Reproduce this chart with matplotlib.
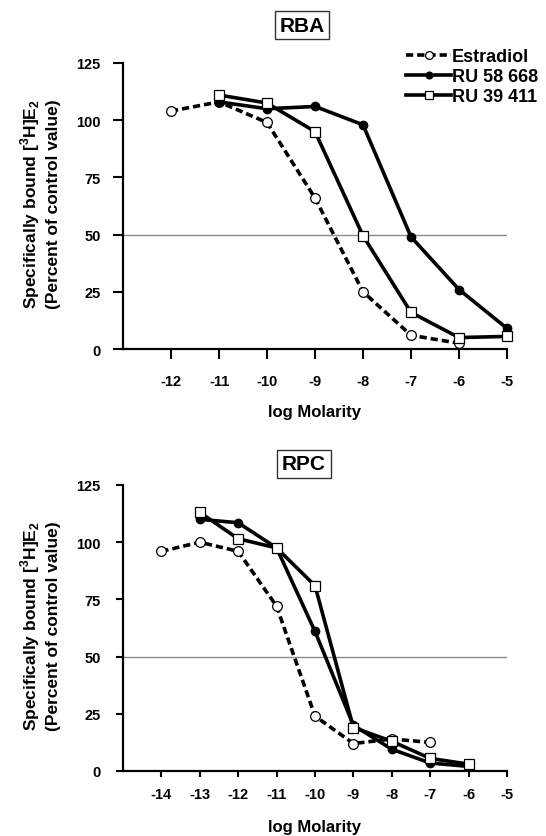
import matplotlib.pyplot as plt

plt.rcParams['font.family'] = ['Liberation Sans', 'DejaVu Sans']
plt.rcParams['font.weight'] = 'bold'
plt.rcParams['axes.unicode_minus'] = False
plt.rcParams['mathtext.fontset'] = 'custom'
plt.rcParams['mathtext.rm'] = 'Liberation Sans:bold'
plt.rcParams['mathtext.bf'] = 'Liberation Sans:bold'

# RBA panel
rba_estr_x = [-12, -11, -10, -9, -8, -7, -6]
rba_estr_y = [104, 108, 99, 66, 25, 6, 2.5]
rba_ru58_x = [-11, -10, -9, -8, -7, -6, -5]
rba_ru58_y = [108, 105, 106, 98, 49, 26, 9]
rba_ru39_x = [-11, -10, -9, -8, -7, -6, -5]
rba_ru39_y = [111, 107.5, 95, 49.5, 16, 5, 5.5]

# RPC panel
rpc_estr_x = [-14, -13, -12, -11, -10, -9, -8, -7]
rpc_estr_y = [96, 100, 96, 72, 24, 12, 14, 12.5]
rpc_ru58_x = [-13, -12, -11, -10, -9, -8, -7, -6]
rpc_ru58_y = [110, 108.5, 97.5, 61, 20, 9.5, 3.5, 2]
rpc_ru39_x = [-13, -12, -11, -10, -9, -8, -7, -6]
rpc_ru39_y = [113, 101.5, 97.5, 81, 19, 13, 5.5, 3]

legend_labels = ['Estradiol', 'RU 58 668', 'RU 39 411']
yticks = [0, 25, 50, 75, 100, 125]
ylabel = 'Specifically bound [$^3$H]E$_2$\n(Percent of control value)'

fig = plt.figure(figsize=(5.46, 8.37), dpi=100)
ax1 = fig.add_axes([123 / 546, 1 - 350 / 837, 384 / 546, 286 / 837])
ax2 = fig.add_axes([123 / 546, 1 - 772 / 837, 384 / 546, 286 / 837])


def draw(ax, estr, ru58, ru39):
    ax.axhline(50, color='#8a8a8a', lw=1.0, zorder=1)
    l1, = ax.plot(*estr, ls=(0, (2.0, 1.1)), color='black', lw=2.6,
                  marker='o', mfc='white', mec='black', ms=7, mew=0.9, zorder=3)
    l2, = ax.plot(*ru58, ls='-', color='black', lw=2.6,
                  marker='o', mfc='black', mec='black', ms=6, zorder=4)
    l3, = ax.plot(*ru39, ls='-', color='black', lw=2.6,
                  marker='s', mfc='white', mec='black', ms=7, mew=0.9, zorder=5)
    for l in (l1, l2, l3):
        l.set_clip_on(False)
    ax.set_ylim(0, 125)
    ax.set_yticks(yticks)
    ax.spines['top'].set_visible(False)
    ax.spines['right'].set_visible(False)
    ax.spines['left'].set_linewidth(1.6)
    ax.spines['bottom'].set_linewidth(1.6)
    for t in ax.get_xticklabels() + ax.get_yticklabels():
        t.set_fontweight('bold')
    ax.text(-83 / 384, 0.51, ylabel, transform=ax.transAxes, rotation=90,
            ha='center', va='center', multialignment='center',
            fontsize=12.5, fontweight='bold', linespacing=1.35)
    return l1, l2, l3


h = draw(ax1, (rba_estr_x, rba_estr_y), (rba_ru58_x, rba_ru58_y), (rba_ru39_x, rba_ru39_y))
ax1.set_xlim(-13, -5)
ax1.set_xticks(range(-12, -4))
ax1.tick_params(axis='x', direction='out', length=7, width=1.5, pad=11, labelsize=10.5)
ax1.tick_params(axis='y', direction='out', length=7, width=1.5, pad=9, labelsize=10.5)
ax1.text(0.5, -63 / 286, 'log Molarity', transform=ax1.transAxes,
         ha='center', va='center', fontsize=12, fontweight='bold')

draw(ax2, (rpc_estr_x, rpc_estr_y), (rpc_ru58_x, rpc_ru58_y), (rpc_ru39_x, rpc_ru39_y))
ax2.set_xlim(-15, -5)
ax2.set_xticks(range(-14, -4))
ax2.tick_params(axis='x', direction='out', length=4.5, width=1.5, pad=7, labelsize=10.5)
ax2.tick_params(axis='y', direction='out', length=5, width=1.5, pad=11, labelsize=10.5)
ax2.text(0.5, -56 / 286, 'log Molarity', transform=ax2.transAxes,
         ha='center', va='center', fontsize=12, fontweight='bold')

box = dict(boxstyle='square,pad=0.22', fc='white', ec='#333333', lw=1.0)
fig.text(302 / 546, 1 - 26 / 837, 'RBA', ha='center', va='center', fontsize=15, fontweight='bold', bbox=box)
fig.text(304 / 546, 1 - 465 / 837, 'RPC', ha='center', va='center', fontsize=15, fontweight='bold', bbox=box)

fig.legend(h, legend_labels, loc='upper left', bbox_to_anchor=(406 / 546, 1 - 49 / 837),
           frameon=False, prop={'size': 13, 'weight': 'bold'}, handlelength=2.5,
           handletextpad=0.05, labelspacing=0.18, borderaxespad=0, borderpad=0,
           markerscale=0.8)

fig.savefig('out.png', dpi=100)
